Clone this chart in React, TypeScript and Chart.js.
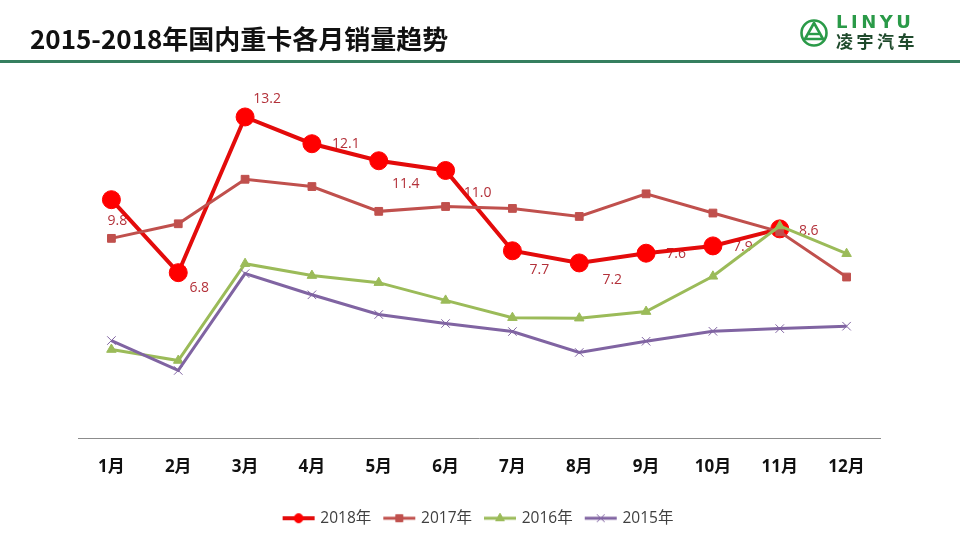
import React, { useEffect, useRef } from 'react';
import { Chart, registerables } from 'chart.js';
import { drawPoint } from 'chart.js/helpers';

Chart.register(...registerables);

const months = ['1月', '2月', '3月', '4月', '5月', '6月', '7月', '8月', '9月', '10月', '11月', '12月'];
const seriesNames = ['2018年', '2017年', '2016年', '2015年'];
const sales2018 = [9.8, 6.8, 13.2, 12.1, 11.4, 11.0, 7.7, 7.2, 7.6, 7.9, 8.6, null];
const sales2017 = [8.21, 8.81, 10.64, 10.34, 9.32, 9.52, 9.44, 9.11, 10.04, 9.25, 8.48, 6.62];
const sales2016 = [3.64, 3.19, 7.17, 6.68, 6.39, 5.66, 4.95, 4.93, 5.2, 6.65, 8.72, 7.58];
const sales2015 = [4.01, 2.78, 6.76, 5.89, 5.08, 4.71, 4.38, 3.52, 3.98, 4.39, 4.5, 4.6];

// label placement (dx, dy) relative to each 2018 point
const labelOffsets = [
  [6, 21], [21, 15], [22, -18], [34, 0], [27, 23], [32, 23],
  [27, 19], [33, 17], [30, 1], [30, 1], [29, 2],
];

const FONT = '"Open Sans", "Noto Sans CJK SC", sans-serif';
const CJK = '"Noto Sans CJK SC", sans-serif';

const styles = [
  { color: '#e30b0b', fill: '#ff0000', width: 4, point: 'circle', radius: 9, lr: 4.5 },
  { color: '#c0504d', fill: '#c0504d', width: 3, point: 'rect', radius: 5.5, lr: 5 },
  { color: '#9bbb59', fill: '#9bbb59', width: 3, point: 'triangle', radius: 5.5, lr: 5 },
  { color: '#8064a2', fill: '#8064a2', width: 3, point: 'crossRot', radius: 6, lr: 5.5 },
];

function legendIcon(s: any) {
  const c = document.createElement('canvas');
  c.width = 34;
  c.height = 16;
  const ctx = c.getContext('2d')!;
  ctx.strokeStyle = s.color;
  ctx.fillStyle = s.fill;
  ctx.lineWidth = s.width;
  ctx.beginPath();
  ctx.moveTo(1, 8);
  ctx.lineTo(33, 8);
  ctx.stroke();
  ctx.lineWidth = 1;
  ctx.strokeStyle = s.fill;
  drawPoint(ctx, { pointStyle: s.point, radius: s.lr, rotation: 0, borderWidth: 1 } as any, 17, 8);
  return c;
}

const valueLabels = {
  id: 'valueLabels',
  beforeDatasetsDraw(chart: any) {
    const meta = chart.getDatasetMeta(0);
    const ctx = chart.ctx;
    ctx.save();
    ctx.font = `14px ${FONT}`;
    ctx.fillStyle = '#b3313a';
    ctx.textAlign = 'center';
    ctx.textBaseline = 'middle';
    meta.data.forEach((pt: any, i: number) => {
      const v = sales2018[i];
      if (v == null) return;
      const [dx, dy] = labelOffsets[i];
      ctx.fillText(v.toFixed(1), pt.x + dx, pt.y + dy);
    });
    ctx.restore();
  },
};

function Logo() {
  return (
    <div style={{ position: 'absolute', left: 799, top: 16, width: 140, height: 36 }}>
      <svg width="30" height="30" viewBox="0 0 30 30" style={{ position: 'absolute', left: 0, top: 2 }}>
        <circle cx="15" cy="15" r="12.5" fill="none" stroke="#2a9a48" strokeWidth="2.6" />
        <path d="M15 5 L24 21 L6 21 Z" fill="none" stroke="#2a9a48" strokeWidth="2.6" strokeLinejoin="round" />
        <path d="M10 16 L20 16" stroke="#2a9a48" strokeWidth="2.4" />
      </svg>
      <div
        style={{
          position: 'absolute', left: 37, top: -4, fontFamily: '"DejaVu Sans", sans-serif', fontWeight: 'bold',
          fontSize: 18, letterSpacing: 3.5, color: '#2a9a48', lineHeight: '20px', whiteSpace: 'nowrap',
        }}
      >
        LINYU
      </div>
      <div
        style={{
          position: 'absolute', left: 37, top: 15, fontFamily: CJK, fontWeight: 'bold',
          fontSize: 17, letterSpacing: 3.5, color: '#1f4a2c', lineHeight: '20px', whiteSpace: 'nowrap',
        }}
      >
        凌宇汽车
      </div>
    </div>
  );
}

export default function App() {
  const ref = useRef<HTMLCanvasElement>(null);

  useEffect(() => {
    if (!ref.current) return;
    const allData = [sales2018, sales2017, sales2016, sales2015];
    const chart = new Chart(ref.current, {
      type: 'line',
      data: {
        labels: months,
        datasets: allData.map((d, i) => ({
          label: seriesNames[i],
          data: d as any,
          borderColor: styles[i].color,
          backgroundColor: styles[i].fill,
          pointBackgroundColor: styles[i].fill,
          pointBorderColor: styles[i].fill,
          pointBorderWidth: 1,
          borderWidth: styles[i].width,
          pointStyle: styles[i].point as any,
          pointRadius: styles[i].radius,
          tension: 0,
          fill: false,
          order: 4 - i,
        })),
      },
      options: {
        animation: false,
        responsive: false,
        layout: { padding: { left: 78, right: 80, top: 97.5, bottom: 4 } },
        scales: {
          x: {
            offset: true,
            grid: { display: false, drawTicks: false },
            border: { display: true, color: '#8c8c8c', width: 1 },
            ticks: { color: '#111111', font: { size: 17, weight: 'bold', family: FONT }, padding: 19 },
          },
          y: { display: false, min: 0, max: 14 },
        },
        plugins: {
          legend: {
            position: 'bottom',
            labels: {
              usePointStyle: true,
              pointStyleWidth: 28,
              padding: 14,
              color: '#404040',
              font: { size: 15.5, family: FONT },
              generateLabels: (c: any) =>
                c.data.datasets.map((ds: any, i: number) => ({
                  text: ds.label,
                  pointStyle: legendIcon(styles[i]),
                  fillStyle: styles[i].fill,
                  strokeStyle: styles[i].color,
                  lineWidth: 0,
                  hidden: false,
                  datasetIndex: i,
                  fontColor: '#404040',
                })),
            },
          },
          tooltip: { enabled: false },
        },
      },
      plugins: [valueLabels],
    });
    return () => chart.destroy();
  }, []);

  return (
    <div style={{ position: 'absolute', left: 0, top: 0, width: 960, height: 540, background: '#fff', overflow: 'hidden' }}>
      <canvas ref={ref} width={960} height={540} style={{ position: 'absolute', left: 0, top: 0, width: 960, height: 540 }} />
      <div
        style={{
          position: 'absolute', left: 30, top: 20, fontFamily: CJK, fontWeight: 'bold', fontSize: 26,
          color: '#111', lineHeight: '36px', whiteSpace: 'nowrap',
        }}
      >
        2015-2018年国内重卡各月销量趋势
      </div>
      <div style={{ position: 'absolute', left: 0, top: 60, width: 960, height: 3, background: '#357f5f' }} />
      <Logo />
    </div>
  );
}
